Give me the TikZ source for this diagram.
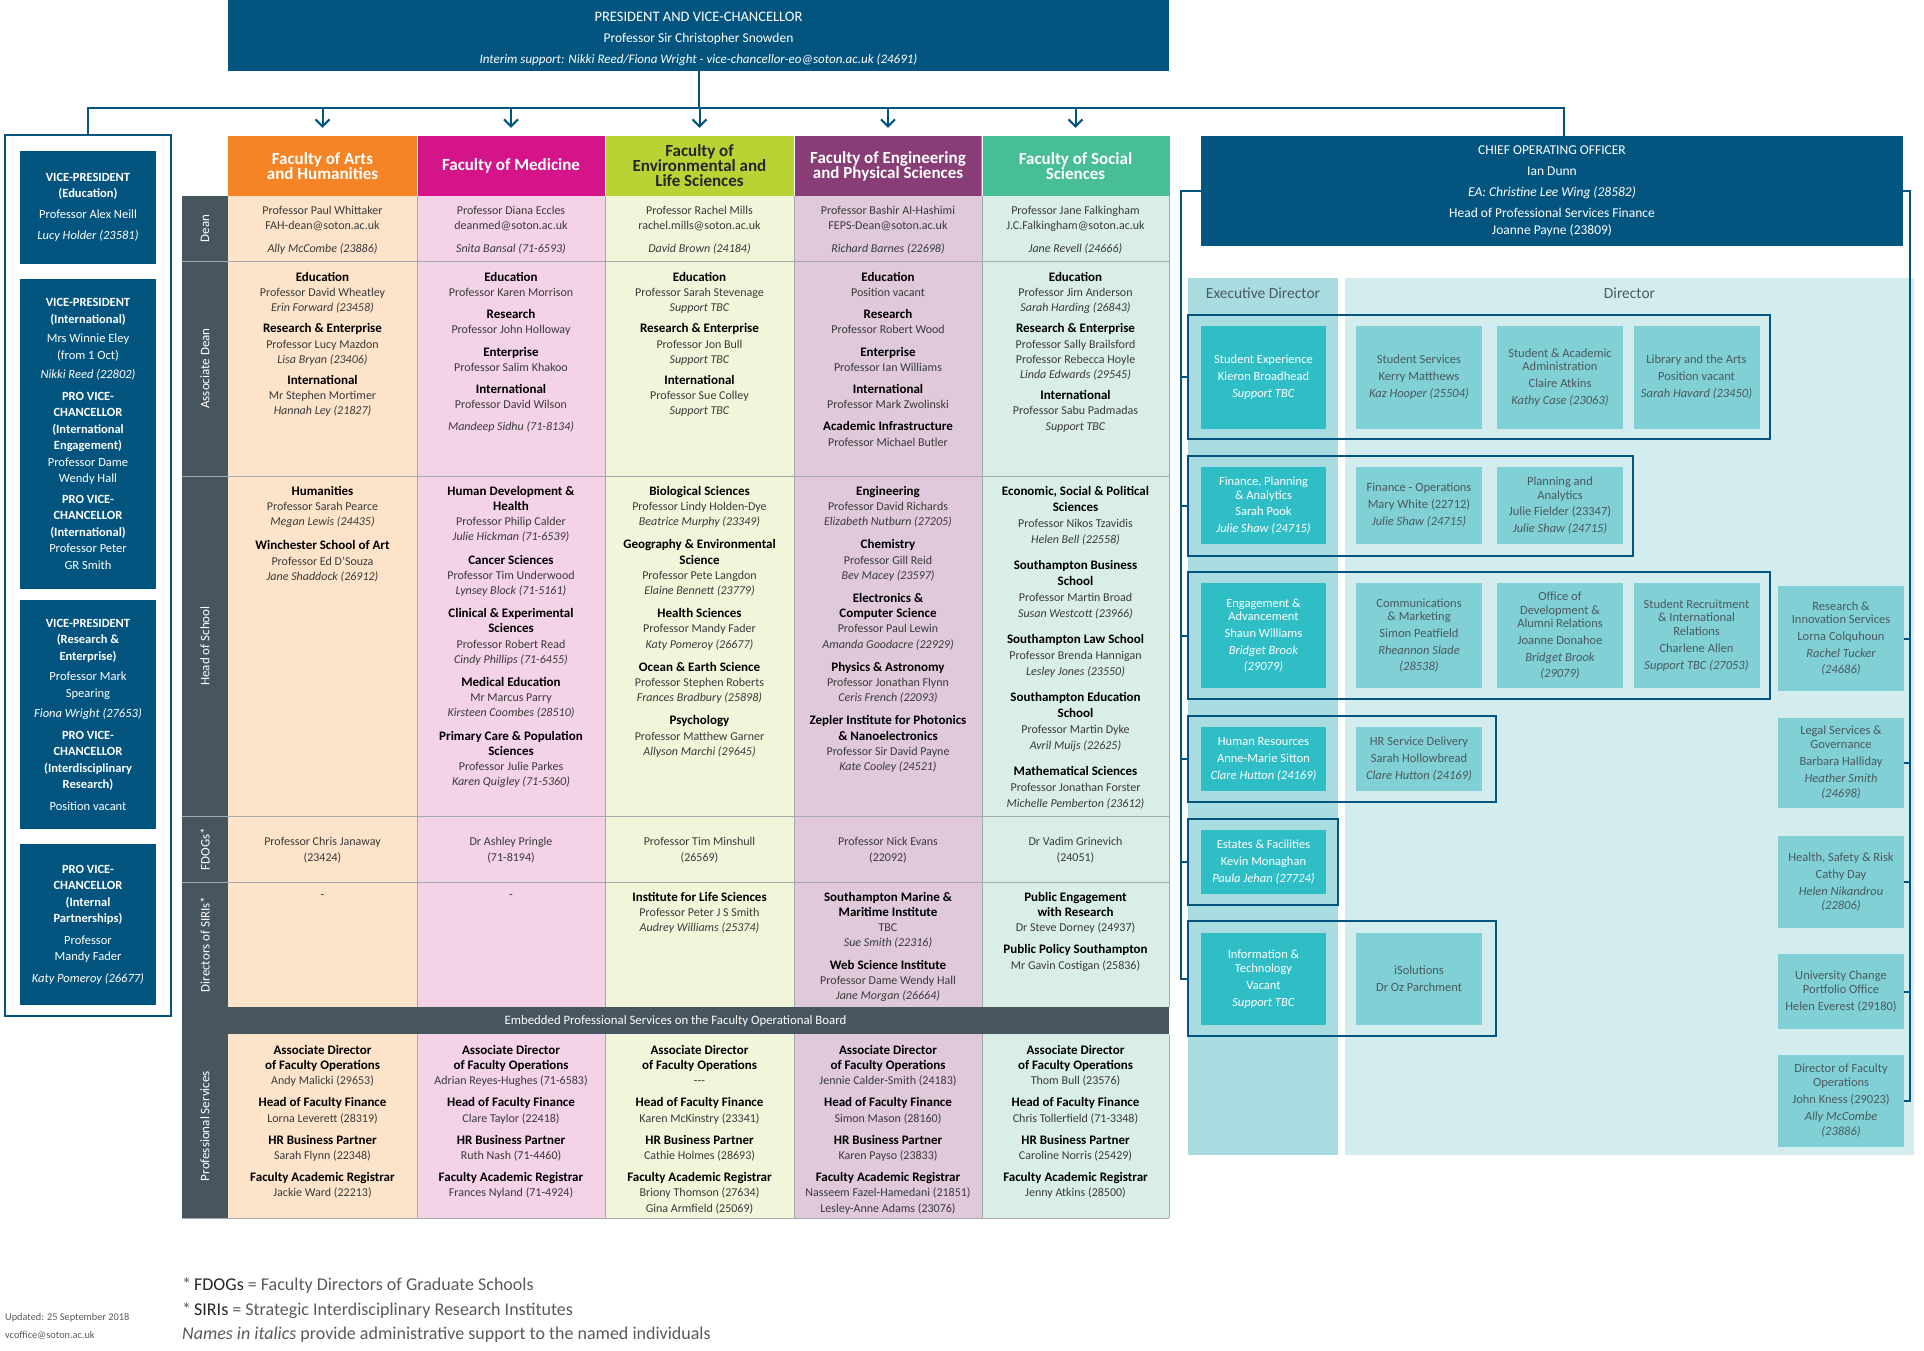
\documentclass[tikz,border=0pt]{standalone}
\usepackage{fontspec}
\setmainfont{Carlito}
\usetikzlibrary{arrows.meta}
\definecolor{dkblue}{HTML}{03557F}
\definecolor{slate}{HTML}{47565E}
\definecolor{artsH}{HTML}{F58426}
\definecolor{artsB}{HTML}{FDE3CA}
\definecolor{medH}{HTML}{D5148A}
\definecolor{medB}{HTML}{F4D2E7}
\definecolor{envH}{HTML}{B7D334}
\definecolor{envB}{HTML}{F1F5DA}
\definecolor{engH}{HTML}{883D76}
\definecolor{engB}{HTML}{DFC9DA}
\definecolor{socH}{HTML}{48BE98}
\definecolor{socB}{HTML}{D9EEE6}
\definecolor{exBg}{HTML}{A8DCE0}
\definecolor{dirBg}{HTML}{D3EDEE}
\definecolor{exFill}{HTML}{30BEC6}
\definecolor{dirFill}{HTML}{80D0D5}
\definecolor{dirTxt}{HTML}{4A5A60}
\definecolor{txt}{HTML}{3A3A3A}
\definecolor{gridc}{HTML}{A3A9AD}
\definecolor{footTxt}{HTML}{5A5A5A}
\newcommand\fTab{\fontsize{12}{15.2}\selectfont\lineskiplimit=-30pt\lineskip=0pt}
\newcommand\fTabW{\fontsize{12}{16}\selectfont\lineskiplimit=-30pt\lineskip=0pt}
\newcommand\fFac{\fontsize{17}{15}\selectfont\bfseries\lineskiplimit=-30pt\lineskip=0pt}
\newcommand\fLbl{\fontsize{13}{15}\selectfont}
\newcommand\fLbox{\fontsize{12.5}{16.5}\selectfont\lineskiplimit=-30pt\lineskip=0pt}
\newcommand\fRbox{\fontsize{12.5}{13.5}\selectfont\lineskiplimit=-30pt\lineskip=0pt}
\newcommand\fPvc{\fontsize{13}{21}\selectfont\lineskiplimit=-30pt\lineskip=0pt}
\newcommand\fCoo{\fontsize{13.5}{17}\selectfont\lineskiplimit=-30pt\lineskip=0pt}
\newcommand\fDirHd{\fontsize{15.5}{18}\selectfont}
\newcommand\fFoot{\fontsize{18}{22}\selectfont}
\newcommand\fSmall{\fontsize{10.3}{13}\selectfont}
\newcommand\fEmb{\fontsize{12.8}{15}\selectfont}
\newcommand\hb[1]{{\fontsize{13}{15.2}\selectfont\bfseries\color{black}#1}}
\newcommand\ii[1]{\textit{#1}}
\begin{document}
\begin{tikzpicture}[x=1pt,y=-1pt,
  conn/.style={draw=dkblue, line width=2pt},
  arr/.style={conn, -{Straight Barb[length=7pt,width=14pt]}},
  cell/.style={anchor=north, align=center, inner sep=0pt, text=txt, font=\fTab},
  fach/.style={align=center, inner sep=0pt, minimum width=188.5, minimum height=60, font=\fFac},
  lbl/.style={rotate=90, text=white, font=\fLbl, inner sep=0pt},
  lbox/.style={fill=dkblue, text=white, align=center, inner sep=0pt, minimum width=136, font=\fLbox},
  rbox/.style={align=center, inner sep=0pt, font=\fRbox},
  exbox/.style={rbox, fill=exFill, text=white, minimum width=125},
  dirbox/.style={rbox, fill=dirFill, text=dirTxt, minimum width=126},
  grp/.style={draw=dkblue, line width=1.6pt, inner sep=0pt},
  grid/.style={draw=gridc, line width=0.9pt},
]
\useasboundingbox[fill=white] (0,0) rectangle (1924,1350);

% ---------------- top box ----------------
\node[fill=dkblue, inner sep=0pt, minimum width=941, minimum height=71] (pvc) at (698.5,35.5) {};
\node[text=white, align=center, inner sep=0pt, font=\fPvc] (pvcT) at (698.5,38.5)
 {{\fontsize{14.5}{21}\selectfont PRESIDENT AND VICE-CHANCELLOR}\\{\fontsize{13.5}{21}\selectfont Professor Sir Christopher Snowden}\\\textit{Interim support: Nikki Reed/Fiona Wright - vice-chancellor-eo@soton.ac.uk (24691)}};

% ---------------- table backgrounds ----------------
\fill[artsB] (228,196) rectangle (417,1007);
\fill[medB] (417,196) rectangle (605,1007);
\fill[envB] (605,196) rectangle (794,1007);
\fill[engB] (794,196) rectangle (982,1007);
\fill[socB] (982,196) rectangle (1169,1007);
\fill[artsB] (228,1034) rectangle (417,1218);
\fill[medB] (417,1034) rectangle (605,1218);
\fill[envB] (605,1034) rectangle (794,1218);
\fill[engB] (794,1034) rectangle (982,1218);
\fill[socB] (982,1034) rectangle (1169,1218);
\fill[slate] (182,196) rectangle (228,1007);
\fill[slate] (182,1007) rectangle (1169,1034);
\fill[slate] (182,1034) rectangle (228,1218);
\foreach \yy in {261,476,816,882} \draw[grid] (182,\yy) -- (1169,\yy);
\draw[grid] (182,1218) -- (1169,1218);
\foreach \xx in {417,605,794,982,1169} {
  \draw[grid] (\xx,196) -- (\xx,1007);
  \draw[grid] (\xx,1034) -- (\xx,1218);
}

% ---------------- faculty headers ----------------
\node[fach, fill=artsH, text=white] (fac1) at (322.5,166) {Faculty of Arts\\and Humanities};
\node[fach, fill=medH, text=white] (fac2) at (511,166) {Faculty of Medicine};
\node[fach, fill=envH, text=black!85] (fac3) at (699.5,166) {Faculty of\\Environmental and\\Life Sciences};
\node[fach, fill=engH, text=white] (fac4) at (888,166) {Faculty of Engineering\\and Physical Sciences};
\node[fach, fill=socH, text=white] (fac5) at (1075.5,166) {Faculty of Social\\Sciences};
\foreach \xx in {417,605,794,982} \draw[white, line width=0.8pt] (\xx,136) -- (\xx,196);

% ---------------- row labels ----------------
\node[lbl] (lDean) at (205,228.5) {Dean};
\node[lbl] (lAssoc) at (205,368.5) {Associate Dean};
\node[lbl] (lHos) at (205,646) {Head of School};
\node[lbl] (lFdog) at (205,849) {FDOGs*};
\node[lbl] (lSiri) at (205,944.5) {Directors of SIRIs*};
\node[lbl] (lPs) at (205,1126) {Professional Services};
\node[text=white, font=\fEmb, inner sep=0pt] (embed) at (675.5,1021) {Embedded Professional Services on the Faculty Operational Board};

% ---------------- Dean ----------------
\node[cell] (d1) at (322.5,206) {Professor Paul Whittaker\\FAH-dean@soton.ac.uk\\[8pt]\ii{Ally McCombe (23886)}};
\node[cell] (d2) at (511,206) {Professor Diana Eccles\\deanmed@soton.ac.uk\\[8pt]\ii{Snita Bansal (71-6593)}};
\node[cell] (d3) at (699.5,206) {Professor Rachel Mills\\rachel.mills@soton.ac.uk\\[8pt]\ii{David Brown (24184)}};
\node[cell] (d4) at (888,206) {Professor Bashir Al-Hashimi\\FEPS-Dean@soton.ac.uk\\[8pt]\ii{Richard Barnes (22698)}};
\node[cell] (d5) at (1075.5,206) {Professor Jane Falkingham\\J.C.Falkingham@soton.ac.uk\\[8pt]\ii{Jane Revell (24666)}};

% ---------------- Associate Dean ----------------
\node[cell] (a1) at (322.5,272) {\hb{Education}\\Professor David Wheatley\\\ii{Erin Forward (23458)}\\[6pt]\hb{Research \& Enterprise}\\Professor Lucy Mazdon\\\ii{Lisa Bryan (23406)}\\[6pt]\hb{International}\\Mr Stephen Mortimer\\\ii{Hannah Ley (21827)}};
\node[cell] (a2) at (511,272) {\hb{Education}\\Professor Karen Morrison\\[7pt]\hb{Research}\\Professor John Holloway\\[7pt]\hb{Enterprise}\\Professor Salim Khakoo\\[7pt]\hb{International}\\Professor David Wilson\\[7pt]\ii{Mandeep Sidhu (71-8134)}};
\node[cell] (a3) at (699.5,272) {\hb{Education}\\Professor Sarah Stevenage\\\ii{Support TBC}\\[6pt]\hb{Research \& Enterprise}\\Professor Jon Bull\\\ii{Support TBC}\\[6pt]\hb{International}\\Professor Sue Colley\\\ii{Support TBC}};
\node[cell] (a4) at (888,272) {\hb{Education}\\Position vacant\\[7pt]\hb{Research}\\Professor Robert Wood\\[7pt]\hb{Enterprise}\\Professor Ian Williams\\[7pt]\hb{International}\\Professor Mark Zwolinski\\[7pt]\hb{Academic Infrastructure}\\Professor Michael Butler};
\node[cell] (a5) at (1075.5,272) {\hb{Education}\\Professor Jim Anderson\\\ii{Sarah Harding (26843)}\\[6pt]\hb{Research \& Enterprise}\\Professor Sally Brailsford\\Professor Rebecca Hoyle\\\ii{Linda Edwards (29545)}\\[6pt]\hb{International}\\Professor Sabu Padmadas\\\ii{Support TBC}};

% ---------------- Head of School ----------------
\node[cell] (h1) at (322.5,486) {\hb{Humanities}\\Professor Sarah Pearce\\\ii{Megan Lewis (24435)}\\[9pt]\hb{Winchester School of Art}\\Professor Ed D'Souza\\\ii{Jane Shaddock (26912)}};
\node[cell] (h2) at (511,486) {\hb{Human Development \&}\\\hb{Health}\\Professor Philip Calder\\\ii{Julie Hickman (71-6539)}\\[8pt]\hb{Cancer Sciences}\\Professor Tim Underwood\\\ii{Lynsey Block (71-5161)}\\[8pt]\hb{Clinical \& Experimental}\\\hb{Sciences}\\Professor Robert Read\\\ii{Cindy Phillips (71-6455)}\\[8pt]\hb{Medical Education}\\Mr Marcus Parry\\\ii{Kirsteen Coombes (28510)}\\[8pt]\hb{Primary Care \& Population}\\\hb{Sciences}\\Professor Julie Parkes\\\ii{Karen Quigley (71-5360)}};
\node[cell] (h3) at (699.5,486) {\hb{Biological Sciences}\\Professor Lindy Holden-Dye\\\ii{Beatrice Murphy (23349)}\\[8pt]\hb{Geography \& Environmental}\\\hb{Science}\\Professor Pete Langdon\\\ii{Elaine Bennett (23779)}\\[8pt]\hb{Health Sciences}\\Professor Mandy Fader\\\ii{Katy Pomeroy (26677)}\\[8pt]\hb{Ocean \& Earth Science}\\Professor Stephen Roberts\\\ii{Frances Bradbury (25898)}\\[8pt]\hb{Psychology}\\Professor Matthew Garner\\\ii{Allyson Marchi (29645)}};
\node[cell] (h4) at (888,486) {\hb{Engineering}\\Professor David Richards\\\ii{Elizabeth Nutburn (27205)}\\[8pt]\hb{Chemistry}\\Professor Gill Reid\\\ii{Bev Macey (23597)}\\[8pt]\hb{Electronics \&}\\\hb{Computer Science}\\Professor Paul Lewin\\\ii{Amanda Goodacre (22929)}\\[8pt]\hb{Physics \& Astronomy}\\Professor Jonathan Flynn\\\ii{Ceris French (22093)}\\[8pt]\hb{Zepler Institute for Photonics}\\\hb{\& Nanoelectronics}\\Professor Sir David Payne\\\ii{Kate Cooley (24521)}};
\node[cell, font=\fTabW] (h5) at (1075.5,486) {\hb{Economic, Social \& Political}\\\hb{Sciences}\\Professor Nikos Tzavidis\\\ii{Helen Bell (22558)}\\[10pt]\hb{Southampton Business}\\\hb{School}\\Professor Martin Broad\\\ii{Susan Westcott (23966)}\\[10pt]\hb{Southampton Law School}\\Professor Brenda Hannigan\\\ii{Lesley Jones (23550)}\\[10pt]\hb{Southampton Education}\\\hb{School}\\Professor Martin Dyke\\\ii{Avril Muijs (22625)}\\[10pt]\hb{Mathematical Sciences}\\Professor Jonathan Forster\\\ii{Michelle Pemberton (23612)}};

% ---------------- FDOGs ----------------
\node[cell, anchor=center, font=\fTabW] (f1) at (322.5,850) {Professor Chris Janaway\\(23424)};
\node[cell, anchor=center, font=\fTabW] (f2) at (511,850) {Dr Ashley Pringle\\(71-8194)};
\node[cell, anchor=center, font=\fTabW] (f3) at (699.5,850) {Professor Tim Minshull\\(26569)};
\node[cell, anchor=center, font=\fTabW] (f4) at (888,850) {Professor Nick Evans\\(22092)};
\node[cell, anchor=center, font=\fTabW] (f5) at (1075.5,850) {Dr Vadim Grinevich\\(24051)};

% ---------------- SIRIs ----------------
\node[cell, anchor=center] (s1) at (322.5,897) {-};
\node[cell, anchor=center] (s2) at (511,897) {-};
\node[cell] (s3) at (699.5,892) {\hb{Institute for Life Sciences}\\Professor Peter J S Smith\\\ii{Audrey Williams (25374)}};
\node[cell] (s4) at (888,892) {\hb{Southampton Marine \&}\\\hb{Maritime Institute}\\TBC\\\ii{Sue Smith (22316)}\\[7pt]\hb{Web Science Institute}\\Professor Dame Wendy Hall\\\ii{Jane Morgan (26664)}};
\node[cell] (s5) at (1075.5,892) {\hb{Public Engagement}\\\hb{with Research}\\Dr Steve Dorney (24937)\\[7pt]\hb{Public Policy Southampton}\\Mr Gavin Costigan (25836)};

% ---------------- Professional Services ----------------
\node[cell] (p1) at (322.5,1045) {\hb{Associate Director}\\\hb{of Faculty Operations}\\Andy Malicki (29653)\\[7pt]\hb{Head of Faculty Finance}\\Lorna Leverett (28319)\\[7pt]\hb{HR Business Partner}\\Sarah Flynn (22348)\\[7pt]\hb{Faculty Academic Registrar}\\Jackie Ward (22213)};
\node[cell] (p2) at (511,1045) {\hb{Associate Director}\\\hb{of Faculty Operations}\\Adrian Reyes-Hughes (71-6583)\\[7pt]\hb{Head of Faculty Finance}\\Clare Taylor (22418)\\[7pt]\hb{HR Business Partner}\\Ruth Nash (71-4460)\\[7pt]\hb{Faculty Academic Registrar}\\Frances Nyland (71-4924)};
\node[cell] (p3) at (699.5,1045) {\hb{Associate Director}\\\hb{of Faculty Operations}\\{-}{-}{-}\\[7pt]\hb{Head of Faculty Finance}\\Karen McKinstry (23341)\\[7pt]\hb{HR Business Partner}\\Cathie Holmes (28693)\\[7pt]\hb{Faculty Academic Registrar}\\Briony Thomson (27634)\\Gina Armfield (25069)};
\node[cell] (p4) at (888,1045) {\hb{Associate Director}\\\hb{of Faculty Operations}\\Jennie Calder-Smith (24183)\\[7pt]\hb{Head of Faculty Finance}\\Simon Mason (28160)\\[7pt]\hb{HR Business Partner}\\Karen Payso (23833)\\[7pt]\hb{Faculty Academic Registrar}\\Nasseem Fazel-Hamedani (21851)\\Lesley-Anne Adams (23076)};
\node[cell] (p5) at (1075.5,1045) {\hb{Associate Director}\\\hb{of Faculty Operations}\\Thom Bull (23576)\\[7pt]\hb{Head of Faculty Finance}\\Chris Tollerfield (71-3348)\\[7pt]\hb{HR Business Partner}\\Caroline Norris (25429)\\[7pt]\hb{Faculty Academic Registrar}\\Jenny Atkins (28500)};

% ---------------- left column ----------------
\node[draw=dkblue, line width=2pt, minimum width=166, minimum height=881, inner sep=0pt] (lframe) at (88,575.5) {};
\node[lbox, minimum height=113] (vpe) at (88,207.5) {\textbf{VICE-PRESIDENT}\\\textbf{(Education)}\\[4pt]Professor Alex Neill\\[5pt]\textit{Lucy Holder (23581)}};
\node[lbox, minimum height=310] (vpi) at (88,434) {\textbf{VICE-PRESIDENT}\\\textbf{(International)}\\[3pt]Mrs Winnie Eley\\(from 1 Oct)\\[3pt]\textit{Nikki Reed (22802)}\\[5pt]\textbf{PRO VICE-}\\\textbf{CHANCELLOR}\\\textbf{(International}\\\textbf{Engagement)}\\Professor Dame\\Wendy Hall\\[4pt]\textbf{PRO VICE-}\\\textbf{CHANCELLOR}\\\textbf{(International)}\\Professor Peter\\GR Smith};
\node[lbox, minimum height=229] (vpr) at (88,714.5) {\textbf{VICE-PRESIDENT}\\\textbf{(Research \&}\\\textbf{Enterprise)}\\[4pt]Professor Mark\\Spearing\\[4pt]\textit{Fiona Wright (27653)}\\[5pt]\textbf{PRO VICE-}\\\textbf{CHANCELLOR}\\\textbf{(Interdisciplinary}\\\textbf{Research)}\\[5pt]Position vacant};
\node[lbox, minimum height=161] (pvp) at (88,924.5) {\textbf{PRO VICE-}\\\textbf{CHANCELLOR}\\\textbf{(Internal}\\\textbf{Partnerships)}\\[5pt]Professor\\Mandy Fader\\[5pt]\textit{Katy Pomeroy (26677)}};

% ---------------- right side ----------------
\node[fill=dkblue, text=white, align=center, inner sep=0pt, minimum width=702, minimum height=110, font=\fCoo] (coo) at (1552,191)
 {CHIEF OPERATING OFFICER\\[4pt]Ian Dunn\\[4pt]\textit{EA: Christine Lee Wing (28582)}\\[4pt]Head of Professional Services Finance\\Joanne Payne (23809)};
\fill[exBg] (1188,278) rectangle (1338,1155);
\fill[dirBg] (1345,278) rectangle (1914,1155);
\node[text=dirTxt, font=\fDirHd, inner sep=0pt] (hEx) at (1263,293) {Executive Director};
\node[text=dirTxt, font=\fDirHd, inner sep=0pt] (hDir) at (1629.5,293) {Director};

\node[grp, minimum width=582, minimum height=124] (g1) at (1479,377) {};
\node[grp, minimum width=445, minimum height=100] (g2) at (1410.5,506) {};
\node[grp, minimum width=582, minimum height=127] (g3) at (1479,635.5) {};
\node[grp, minimum width=308, minimum height=86] (g4) at (1342,759) {};
\node[grp, minimum width=150, minimum height=86] (g5) at (1263,862) {};
\node[grp, minimum width=308, minimum height=115] (g6) at (1342,978.5) {};

\node[exbox, minimum height=103] (sx) at (1263.5,377.5) {Student Experience\\[3.5pt]Kieron Broadhead\\[3.5pt]\textit{Support TBC}};
\node[dirbox, minimum height=103] (ss) at (1419,377.5) {Student Services\\[3.5pt]Kerry Matthews\\[3.5pt]\textit{Kaz Hooper (25504)}};
\node[dirbox, minimum height=103] (saa) at (1560,377.5) {Student \& Academic\\Administration\\[3.5pt]Claire Atkins\\[3.5pt]\textit{Kathy Case (23063)}};
\node[dirbox, minimum height=103] (lib) at (1696.5,377.5) {Library and the Arts\\[3.5pt]Position vacant\\[3.5pt]\textit{Sarah Havard (23450)}};

\node[exbox, minimum height=77] (fpa) at (1263.5,505.5) {Finance, Planning\\\& Analytics\\[3pt]Sarah Pook\\[3pt]\textit{Julie Shaw (24715)}};
\node[dirbox, minimum height=77] (fop) at (1419,505.5) {Finance - Operations\\[3.5pt]Mary White (22712)\\[3.5pt]\textit{Julie Shaw (24715)}};
\node[dirbox, minimum height=77] (pan) at (1560,505.5) {Planning and\\Analytics\\[3pt]Julie Fielder (23347)\\[3pt]\textit{Julie Shaw (24715)}};

\node[exbox, minimum height=105] (eng) at (1263.5,635.5) {Engagement \&\\Advancement\\[3.5pt]Shaun Williams\\[3.5pt]\textit{Bridget Brook}\\[2pt]\textit{(29079)}};
\node[dirbox, minimum height=105] (com) at (1419,635.5) {Communications\\\& Marketing\\[3.5pt]Simon Peatfield\\[3.5pt]\textit{Rheannon Slade}\\[2pt]\textit{(28538)}};
\node[dirbox, minimum height=105] (oda) at (1560,635.5) {Office of\\Development \&\\Alumni Relations\\[3.5pt]Joanne Donahoe\\[3.5pt]\textit{Bridget Brook}\\[2pt]\textit{(29079)}};
\node[dirbox, minimum height=105] (sri) at (1696.5,635.5) {Student Recruitment\\\& International\\Relations\\[3.5pt]Charlene Allen\\[3.5pt]\textit{Support TBC (27053)}};

\node[exbox, minimum height=64] (hr) at (1263.5,759) {Human Resources\\[3.5pt]Anne-Marie Sitton\\[3.5pt]\textit{Clare Hutton (24169)}};
\node[dirbox, minimum height=64] (hrs) at (1419,759) {HR Service Delivery\\[3.5pt]Sarah Hollowbread\\[3.5pt]\textit{Clare Hutton (24169)}};

\node[exbox, minimum height=64] (est) at (1263.5,862) {Estates \& Facilities\\[3.5pt]Kevin Monaghan\\[3.5pt]\textit{Paula Jehan (27724)}};

\node[exbox, minimum height=92] (it) at (1263.5,979) {Information \&\\Technology\\[3.5pt]Vacant\\[3.5pt]\textit{Support TBC}};
\node[dirbox, minimum height=92] (iso) at (1419,979) {iSolutions\\[3.5pt]Dr Oz Parchment};

\node[dirbox, minimum height=105] (ris) at (1841,638.5) {Research \&\\Innovation Services\\[3.5pt]Lorna Colquhoun\\[3.5pt]\textit{Rachel Tucker}\\[2pt]\textit{(24686)}};
\node[dirbox, minimum height=90] (lsg) at (1841,763) {Legal Services \&\\Governance\\[3.5pt]Barbara Halliday\\[3.5pt]\textit{Heather Smith}\\[2pt]\textit{(24698)}};
\node[dirbox, minimum height=92] (hsr) at (1841,882) {Health, Safety \& Risk\\[3.5pt]Cathy Day\\[3.5pt]\textit{Helen Nikandrou}\\[1pt]\textit{(22806)}};
\node[dirbox, minimum height=75] (ucp) at (1841,991.5) {University Change\\Portfolio Office\\[3.5pt]Helen Everest (29180)};
\node[dirbox, minimum height=92] (dfo) at (1841,1101) {Director of Faculty\\Operations\\[3.5pt]John Kness (29023)\\[3.5pt]\textit{Ally McCombe}\\[2pt]\textit{(23886)}};

% ---------------- connectors ----------------
\coordinate (busR) at (1564,108);
\coordinate (cl) at (1181,0);
\coordinate (cr) at (1910,0);
\draw[conn] (pvc.south) -- (pvc.south |- busR);
\draw[conn] (lframe.north) |- (busR) -- (busR |- coo.north);
\foreach \f in {fac1,fac2,fac3,fac4,fac5} \draw[arr] (\f.north |- busR) -- ([yshift=8pt]\f.north);
\draw[conn] (coo.west) -- (coo.west -| cl) -- (g6.west -| cl) -- (g6.west);
\foreach \g in {g1,g2,g3,g4,g5} \draw[conn] (\g.west -| cl) -- (\g.west);
\draw[conn] (coo.east) -- (coo.east -| cr) -- (dfo.east -| cr) -- (dfo.east);
\foreach \b in {ris,lsg,hsr,ucp} \draw[conn] (\b.east -| cr) -- (\b.east);

% ---------------- footer ----------------
\node[anchor=west, font=\fFoot, text=footTxt, inner sep=0pt] (fn1) at (182,1286) {*\,{\color{black!85}FDOGs} = Faculty Directors of Graduate Schools};
\node[anchor=west, font=\fFoot, text=footTxt, inner sep=0pt] (fn2) at (182,1311) {*\,{\color{black!85}SIRIs} = Strategic Interdisciplinary Research Institutes};
\node[anchor=west, font=\fFoot, text=footTxt, inner sep=0pt] (fn3) at (182,1335) {\textit{Names in italics} provide administrative support to the named individuals};
\node[anchor=west, font=\fSmall, text=footTxt, inner sep=0pt] (upd) at (5,1318) {Updated: 25 September 2018};
\node[anchor=west, font=\fSmall, text=footTxt, inner sep=0pt] (mail) at (5,1335) {vcoffice@soton.ac.uk};
\end{tikzpicture}
\end{document}
